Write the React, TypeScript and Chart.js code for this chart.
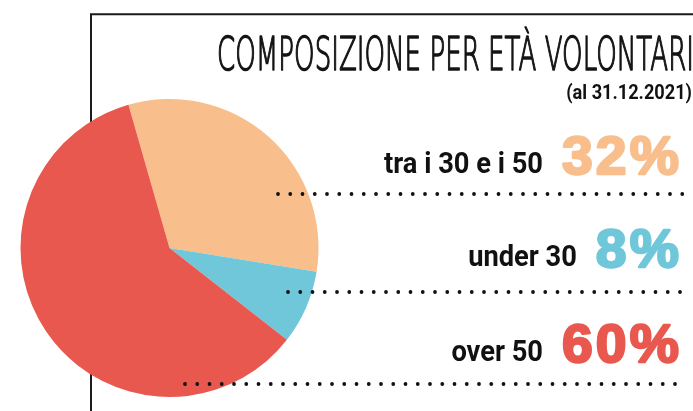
import React, { useEffect, useRef } from "react";
import { Chart, registerables } from "chart.js";

Chart.register(...registerables);

const categories = ["tra i 30 e i 50", "under 30", "over 50"];
const values = [32, 8, 60];
const colors = ["#F8BE8C", "#6FC7D9", "#E9584E"];
const titleText = "COMPOSIZIONE PER ETÀ VOLONTARI";
const subtitleText = "(al 31.12.2021)";

const W = 693;
const H = 411;

function measure(ctx: CanvasRenderingContext2D, text: string, font: string, spacing = "0px") {
  ctx.save();
  ctx.font = font;
  (ctx as any).letterSpacing = spacing;
  const w = ctx.measureText(text).width;
  ctx.restore();
  return w;
}

function drawText(
  ctx: CanvasRenderingContext2D,
  text: string,
  x: number,
  y: number,
  font: string,
  color: string,
  sx: number,
  align: CanvasTextAlign,
  stroke = 0,
  spacing = "0px"
) {
  ctx.save();
  ctx.font = font;
  (ctx as any).letterSpacing = spacing;
  ctx.fillStyle = color;
  ctx.strokeStyle = color;
  ctx.textAlign = align;
  ctx.textBaseline = "alphabetic";
  const w = ctx.measureText(text).width * sx;
  ctx.translate(x, y);
  ctx.scale(sx, 1);
  ctx.fillText(text, 0, 0);
  if (stroke > 0) {
    ctx.lineWidth = stroke;
    ctx.lineJoin = "round";
    ctx.strokeText(text, 0, 0);
  }
  ctx.restore();
  return w;
}

const decor = {
  id: "decor",
  beforeDraw(chart: any) {
    const ctx: CanvasRenderingContext2D = chart.ctx;
    ctx.save();
    ctx.fillStyle = "#ffffff";
    ctx.fillRect(0, 0, chart.width, chart.height);
    ctx.strokeStyle = "#1b1b1b";
    ctx.lineWidth = 2;
    ctx.beginPath();
    ctx.moveTo(91, H);
    ctx.lineTo(91, 14.3);
    ctx.lineTo(W, 14.3);
    ctx.stroke();
    ctx.restore();
  },
  afterDraw(chart: any) {
    const ctx: CanvasRenderingContext2D = chart.ctx;
    // dotted separators
    const dotRows = [
      { y: 194, x0: 278 },
      { y: 292, x0: 288 },
      { y: 384, x0: 185 },
    ];
    ctx.save();
    ctx.fillStyle = "#111";
    dotRows.forEach((r) => {
      for (let x = r.x0; x <= 686; x += 12.25) {
        ctx.beginPath();
        ctx.arc(x, r.y, 1.9, 0, Math.PI * 2);
        ctx.fill();
      }
    });
    ctx.restore();

    // title
    const titleFont = "200 46px 'DejaVu Sans'";
    const tw = measure(ctx, titleText, titleFont);
    drawText(ctx, titleText, 217, 70, titleFont, "#141414", 477 / tw, "left", 1.6);

    // labels
    const labelFont = "bold 30px Roboto";
    const lsx = 159 / measure(ctx, categories[0], labelFont);

    drawText(ctx, subtitleText, 692, 99, "bold 20px Roboto", "#111", lsx, "right");

    const baselines = [175, 268, 363];
    const pctFont = "bold 53px 'Liberation Sans'";
    const sp = "3px";
    const psx = 120 / measure(ctx, values[0] + "%", pctFont, sp);
    categories.forEach((c, i) => {
      const pw = drawText(ctx, values[i] + "%", 682, baselines[i] - 1, pctFont, colors[i], psx, "right", 2.4, sp);
      drawText(ctx, c, 682 - pw - 19, baselines[i] - 2, labelFont, "#111", lsx, "right");
    });
  },
};

export default function App() {
  const ref = useRef<HTMLCanvasElement | null>(null);
  useEffect(() => {
    if (!ref.current) return;
    const chart = new Chart(ref.current, {
      type: "pie",
      data: {
        labels: categories,
        datasets: [
          {
            data: values,
            backgroundColor: colors,
            borderWidth: 0,
          },
        ],
      },
      options: {
        responsive: false,
        animation: false,
        rotation: -16,
        layout: { padding: { left: 20.5, top: 99, right: 374.5, bottom: 14 } },
        plugins: {
          legend: { display: false },
          tooltip: { enabled: false },
        },
      },
      plugins: [decor],
    });
    return () => chart.destroy();
  }, []);
  return (
    <div style={{ position: "absolute", left: 0, top: 0, width: W, height: H }}>
      <canvas ref={ref} width={W} height={H} style={{ display: "block" }} />
    </div>
  );
}
